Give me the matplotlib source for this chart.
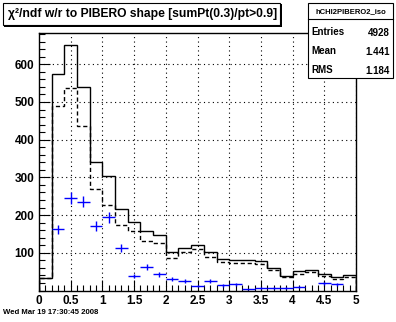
import numpy as np
import matplotlib
matplotlib.use("Agg")
import matplotlib.pyplot as plt
from matplotlib.patches import Rectangle
from matplotlib.lines import Line2D
from matplotlib.ticker import MultipleLocator

plt.rcParams['font.family'] = ['Liberation Sans', 'DejaVu Sans']
plt.rcParams['font.weight'] = 'bold'

# bin edges 0..5 in steps of 0.2
edges = np.linspace(0, 5, 26)
solid = [32, 575, 651, 539, 341, 303, 217, 183, 159, 146, 101, 114, 120,
         102, 84, 81, 81, 78, 61, 39, 52, 54, 45, 37, 40]
dashed = [32, 490, 537, 437, 270, 228, 173, 158, 132, 125, 85, 102, 110,
          89, 75, 72, 72, 69, 54, 37, 45, 49, 38, 31, 37]
blue = [0, 162, 246, 236, 172, 194, 112, 38, 62, 43, 30, 26, 12,
        26, 14, 17, 3, 7, 7, 7, 10, 0, 19, 16, 0]

hist_name = "hCHI2PIBERO2_iso"
stats_rows = [("Entries", "4928"), ("Mean", "1.441"), ("RMS", "1.184")]
title = "χ²/ndf w/r to PIBERO shape [sumPt(0.3)/pt>0.9]"
date_str = "Wed Mar 19 17:30:45 2008"

W, H = 396, 322
fig = plt.figure(figsize=(W / 100, H / 100), dpi=100)

def fx(px):
    return px / W

def fy(py):
    return 1 - py / H

ax = fig.add_axes([fx(39), fy(290.5), fx(356) - fx(39), fy(33) - fy(290.5)])

ax.stairs(solid, edges, color='black', linewidth=1.0)
ax.stairs(dashed, edges, color='black', linewidth=1.0, linestyle=(0, (3, 2)))

centers = 0.5 * (edges[:-1] + edges[1:])
b = np.array(blue, dtype=float)
mask = b > 0
ax.errorbar(centers[mask], b[mask], xerr=0.1, yerr=np.sqrt(b[mask]),
            fmt='none', ecolor='#0000ff', elinewidth=1.0, capsize=0)

ax.set_xlim(0, 5)
ax.set_ylim(0, 683)
ax.xaxis.set_minor_locator(MultipleLocator(0.1))
ax.yaxis.set_minor_locator(MultipleLocator(20))
ax.set_yticks([100, 200, 300, 400, 500, 600])
ax.set_xticks(np.arange(0, 5.01, 0.5))
ax.set_xticklabels(['0', '0.5', '1', '1.5', '2', '2.5', '3', '3.5', '4', '4.5', '5'])
ax.tick_params(which='both', direction='in', top=False, right=False,
               labelsize=8.5, width=0.8)
ax.tick_params(which='major', length=8)
ax.tick_params(which='minor', length=4)
ax.tick_params(axis='x', pad=3)
ax.grid(True, which='major', color='black', linestyle=(0, (1, 3)), linewidth=0.8)
for s in ax.spines.values():
    s.set_linewidth(1.0)

# title box with shadow
fig.add_artist(Rectangle((fx(4), fy(27)), fx(282) - fx(4), fy(4) - fy(27),
                         transform=fig.transFigure, facecolor='black',
                         edgecolor='black', linewidth=0))
fig.add_artist(Rectangle((fx(3), fy(25)), fx(280) - fx(3), fy(3) - fy(25),
                         transform=fig.transFigure, facecolor='white',
                         edgecolor='black', linewidth=0.8))
fig.text(fx(8), fy(14.5), title, fontsize=8.7, fontweight='bold',
         ha='left', va='center')

# stats box
fig.add_artist(Rectangle((fx(308), fy(78)), fx(393) - fx(308), fy(3) - fy(78),
                         transform=fig.transFigure, facecolor='white',
                         edgecolor='black', linewidth=0.8))
fig.add_artist(Line2D([fx(308), fx(393)], [fy(19), fy(19)],
                      transform=fig.transFigure, color='black', linewidth=0.8))
fig.text(fx(350.5), fy(11.5), hist_name, fontsize=5.5, fontweight='bold',
         ha='center', va='center')
for i, (lab, val) in enumerate(stats_rows):
    yy = 32 + i * 19
    fig.text(fx(311), fy(yy), lab, fontsize=7, fontweight='bold',
             ha='left', va='center')
    fig.text(fx(390), fy(yy + 1), val, fontsize=7, fontweight='bold',
             ha='right', va='center')

fig.text(fx(3), fy(313), date_str, fontsize=5.6, fontweight='bold',
         ha='left', va='center')

fig.savefig("out.png", dpi=100)
